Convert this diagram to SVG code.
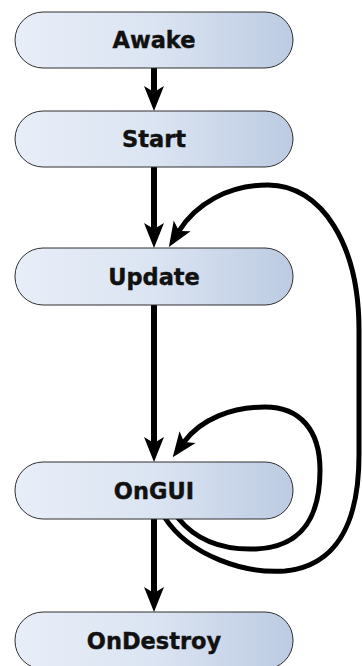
<svg xmlns="http://www.w3.org/2000/svg" width="362" height="666" viewBox="0 0 362 666">
  <defs>
    <linearGradient id="pill" x1="0" y1="0" x2="1" y2="0">
      <stop offset="0" stop-color="#e8eef8"/>
      <stop offset="0.5" stop-color="#dbe4f2"/>
      <stop offset="1" stop-color="#bccbe2"/>
    </linearGradient>
    <!-- barbed arrowhead; path end sits at the notch -->
    <marker id="head" markerUnits="userSpaceOnUse" markerWidth="30" markerHeight="24" viewBox="-1 -12 28 24" refX="6" refY="0" orient="auto">
      <path d="M25 0 L0 -10 L6 0 L0 10 Z" fill="#000"/>
    </marker>
    <style>
      .node rect { fill: url(#pill); stroke: #2e2e2e; stroke-width: 1; }
      .node text { font-family: "DejaVu Sans", Verdana, sans-serif; font-weight: bold; font-size: 22.5px; fill: #111; stroke: #111; stroke-width: 0.4; text-anchor: middle; }
      .edge { fill: none; stroke: #000; stroke-width: 6; marker-end: url(#head); }
      .loop { stroke-width: 5; stroke-linecap: round; }
    </style>
  </defs>

  <g id="connectors">
    <path class="edge" d="M154 68 L154 92"/>
    <path class="edge" d="M154 167 L154 229"/>
    <path class="edge" d="M154 305 L154 443"/>
    <path class="edge" d="M154 519 L154 593"/>
    <!-- OnGUI back to Update -->
    <path class="edge loop" d="M165 518 C190 556, 245 574, 285 571 C335 566, 359 525, 359 455 L359 330 C359 245, 322 185, 268 185 C228 185, 196 204, 179 231"/>
    <!-- OnGUI back to itself -->
    <path class="edge loop" d="M178 518 C200 545, 230 550, 256 549 C300 547, 320 520, 320 470 C320 430, 300 407, 265 407 C232 407, 201 419, 184 442"/>
  </g>

  <g id="awake" class="node">
    <rect x="15" y="12" width="278" height="56" rx="28"/>
    <text x="154" y="48">Awake</text>
  </g>
  <g id="start" class="node">
    <rect x="15" y="111" width="278" height="56" rx="28"/>
    <text x="154" y="147">Start</text>
  </g>
  <g id="update" class="node">
    <rect x="15" y="248" width="278" height="57" rx="28"/>
    <text x="154" y="285">Update</text>
  </g>
  <g id="ongui" class="node">
    <rect x="15" y="462" width="278" height="57" rx="28"/>
    <text x="154" y="499">OnGUI</text>
  </g>
  <g id="ondestroy" class="node">
    <rect x="15" y="612" width="278" height="57" rx="28"/>
    <text x="154" y="649">OnDestroy</text>
  </g>
</svg>
